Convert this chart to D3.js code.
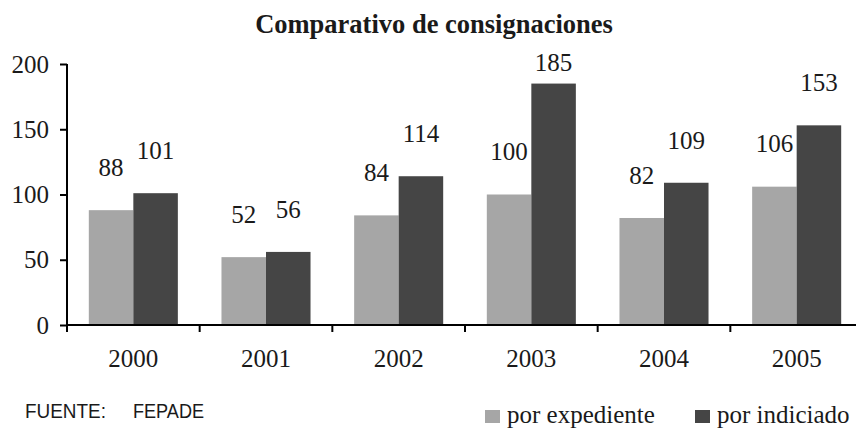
<!DOCTYPE html>
<html>
<head>
<meta charset="utf-8">
<script src="https://cdn.jsdelivr.net/npm/d3@7"></script>
<style>
  body { margin: 0; background: #fff; }
  svg { display: block; }
  text { fill: #1a1a1a; }
  .serif { font-family: 'Liberation Serif', 'Times New Roman', serif; font-size: 25px; }
  .title { font-size: 26.5px; font-weight: bold; }
  .legend text { font-size: 25px; }
  .sans { font-family: 'Liberation Sans', Arial, sans-serif; font-size: 21px; }
</style>
</head>
<body>
<script>
var years = ['2000', '2001', '2002', '2003', '2004', '2005']
var series = ['por expediente', 'por indiciado']
var porExpediente = [88, 52, 84, 100, 82, 106]
var porIndiciado = [101, 56, 114, 185, 109, 153]
var yTicks = [0, 50, 100, 150, 200]

var rows = years.map(function (y, i) {
  return {year: y, values: [porExpediente[i], porIndiciado[i]]}
})

var W = 856
var H = 429

var svg = d3.select('body').append('svg')
  .attr('width', W)
  .attr('height', H)

var x0 = d3.scaleBand()
  .domain(years)
  .range([67, 863])

var x1 = d3.scaleBand()
  .domain(series)
  .range([0, x0.bandwidth()])
  .paddingOuter(0.49)

var y = d3.scaleLinear()
  .domain([0, 200])
  .range([325, 64])

var color = d3.scaleOrdinal()
  .domain(series)
  .range(['#a6a6a6', '#454545'])

// title
svg.append('text')
  .attr('class', 'serif title')
  .attr('x', 434)
  .attr('y', 33)
  .attr('text-anchor', 'middle')
  .text('Comparativo de consignaciones')

// bars
var groups = svg.selectAll('.group')
  .data(rows)
  .enter().append('g')
  .attr('class', 'group')
  .attr('transform', function (d) { return 'translate(' + x0(d.year) + ',0)' })

groups.selectAll('rect')
  .data(function (d) { return d.values.map(function (v, i) { return {s: series[i], v: v} }) })
  .enter().append('rect')
  .attr('x', function (d) { return x1(d.s) })
  .attr('width', x1.bandwidth())
  .attr('y', function (d) { return y(d.v) })
  .attr('height', function (d) { return y(0) - y(d.v) })
  .style('fill', function (d) { return color(d.s) })

groups.selectAll('.val')
  .data(function (d) { return d.values.map(function (v, i) { return {s: series[i], v: v} }) })
  .enter().append('text')
  .attr('class', 'val serif')
  .attr('x', function (d) { return x1(d.s) + x1.bandwidth() / 2 })
  .attr('y', function (d) { return Math.max(y(d.v) - 43, 62) })
  .attr('dy', '.35em')
  .attr('text-anchor', 'middle')
  .text(function (d) { return d.v })

// axes
var yAxis = d3.axisLeft(y)
  .tickValues(yTicks)
  .tickSize(7)
  .tickPadding(11)

var gy = svg.append('g')
  .attr('transform', 'translate(67,0)')
  .call(yAxis)
gy.select('.domain').attr('d', 'M0,' + y(200) + 'V' + y(0))

var xAxis = d3.axisBottom(x0)
  .tickSize(0)
  .tickPadding(24)

var gx = svg.append('g')
  .attr('transform', 'translate(0,' + y(0) + ')')
  .call(xAxis)
gx.select('.domain').attr('d', 'M67,0H863')

gx.selectAll('.boundary')
  .data(years)
  .enter().append('line')
  .attr('class', 'boundary')
  .attr('x1', function (d) { return x0(d) })
  .attr('x2', function (d) { return x0(d) })
  .attr('y1', 0)
  .attr('y2', 7)
  .attr('stroke', '#000')
  .attr('stroke-width', 2)

svg.selectAll('.domain, .tick line')
  .attr('stroke', '#000')
  .attr('stroke-width', 2)

svg.selectAll('.tick text')
  .attr('class', 'serif')

gy.attr('font-family', null).attr('font-size', null)
gx.attr('font-family', null).attr('font-size', null)

// source
svg.append('text')
  .attr('class', 'sans')
  .attr('x', 25)
  .attr('y', 418)
  .attr('textLength', 81)
  .attr('lengthAdjust', 'spacingAndGlyphs')
  .text('FUENTE:')

svg.append('text')
  .attr('class', 'sans')
  .attr('x', 133)
  .attr('y', 418)
  .attr('textLength', 71)
  .attr('lengthAdjust', 'spacingAndGlyphs')
  .text('FEPADE')

// legend
var legendX = [485, 695]
var legend = svg.selectAll('.legend')
  .data(series)
  .enter().append('g')
  .attr('class', 'legend')
  .attr('transform', function (d, i) { return 'translate(' + legendX[i] + ',0)' })

legend.append('rect')
  .attr('x', 0)
  .attr('y', 410)
  .attr('width', 15)
  .attr('height', 13)
  .style('fill', color)

legend.append('text')
  .attr('class', 'serif')
  .attr('x', 22)
  .attr('y', 423)
  .text(function (d) { return d })
</script>
</body>
</html>
